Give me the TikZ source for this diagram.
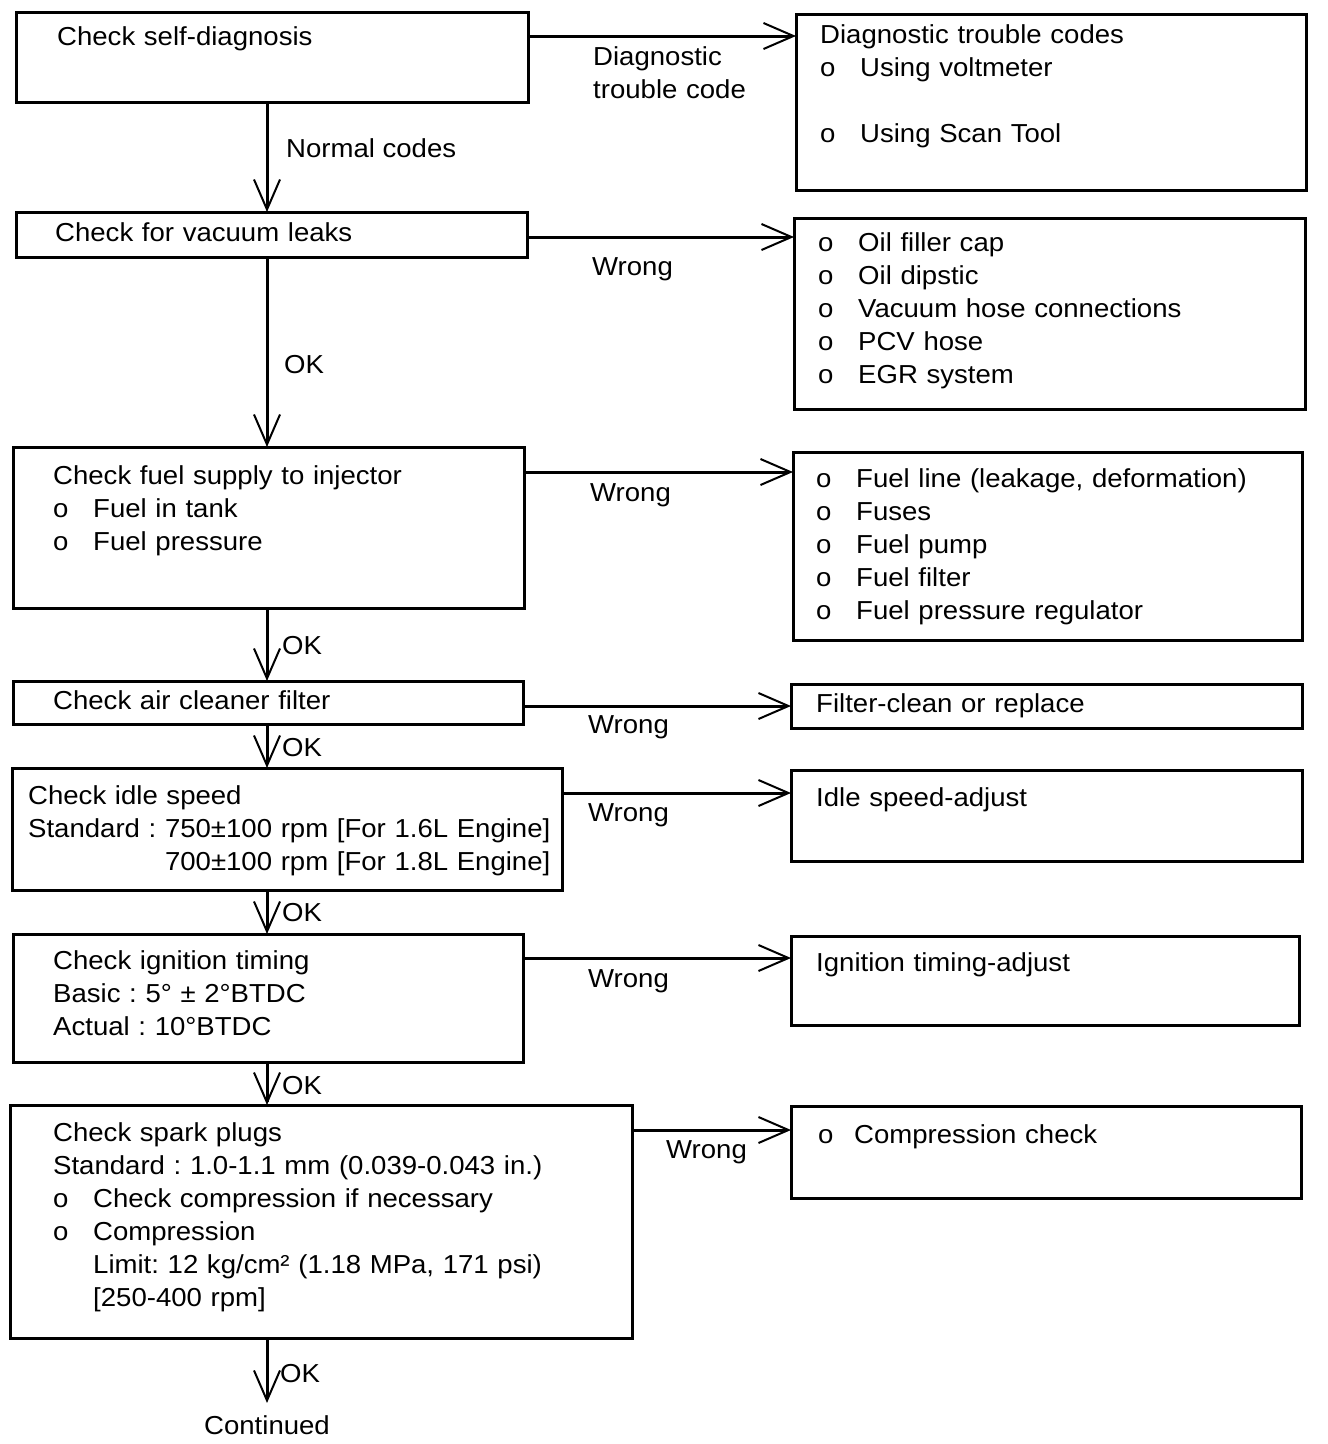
\documentclass[tikz,border=0pt]{standalone}
\usepackage{fontspec}
\setmainfont{Liberation Sans}[FakeStretch=1.06]
\usetikzlibrary{positioning,arrows.meta,calc}
\frenchspacing

\newcommand{\bl}{\makebox[40pt][l]{o}}

\begin{document}
\begin{tikzpicture}[
  x=1pt,y=-1pt,
  font=\fontsize{26}{33}\selectfont,
  box/.style={draw,line width=3pt,anchor=north west,inner sep=0pt,outer sep=0pt},
  txt/.style={anchor=base west,inner sep=0pt,text width=700pt,align=left},
  lbl/.style={anchor=base west,inner sep=0pt},
  ar/.style={line width=3pt,-{Straight Barb[length=30pt,width=26pt,line width=2pt]}},
]
\useasboundingbox (0,0) rectangle (1328,1444);
\coordinate (spine) at (267,0);

% checks, left column
\node[box,minimum width=512pt,minimum height=90pt] (chk1) at (16,12) {};
\node[box,minimum width=511pt,minimum height=45pt] (chk2) at (16,212) {};
\node[box,minimum width=511pt,minimum height=161pt] (chk3) at (13,447) {};
\node[box,minimum width=510pt,minimum height=43pt] (chk4) at (13,681) {};
\node[box,minimum width=550pt,minimum height=122pt] (chk5) at (12,768) {};
\node[box,minimum width=510pt,minimum height=128pt] (chk6) at (13,934) {};
\node[box,minimum width=622pt,minimum height=233pt] (chk7) at (10,1105) {};

\node[txt] at (57,45) {Check self-diagnosis};
\node[txt] at (55,241) {Check for vacuum leaks};
\node[txt] at (53,484) {Check fuel supply to injector\\
  \bl Fuel in tank\\
  \bl Fuel pressure};
\node[txt] at (53,709) {Check air cleaner filter};
\node[txt] at (28,804) {Check idle speed\\
  Standard : 750±100 rpm [For 1.6L Engine]\\
  \phantom{Standard : }700±100 rpm [For 1.8L Engine]};
\node[txt] at (53,969) {Check ignition timing\\
  Basic : 5° ± 2°BTDC\\
  Actual : 10°BTDC};
\node[txt] at (53,1141) {Check spark plugs\\
  Standard : 1.0-1.1 mm (0.039-0.043 in.)\\
  \bl Check compression if necessary\\
  \bl Compression\\
  \hspace*{40pt}Limit: 12 kg/cm² (1.18 MPa, 171 psi)\\
  \hspace*{40pt}[250-400 rpm]};

% remedies, right column
\node[box,minimum width=510pt,minimum height=176pt] (fix1) at (796,14) {};
\node[box,minimum width=511pt,minimum height=191pt] (fix2) at (794,218) {};
\node[box,minimum width=509pt,minimum height=188pt] (fix3) at (793,452) {};
\node[box,minimum width=511pt,minimum height=44pt] (fix4) at (791,684) {};
\node[box,minimum width=511pt,minimum height=91pt] (fix5) at (791,770) {};
\node[box,minimum width=508pt,minimum height=89pt] (fix6) at (791,936) {};
\node[box,minimum width=510pt,minimum height=92pt] (fix7) at (791,1106) {};

\node[txt] at (820,43) {Diagnostic trouble codes\\
  \bl Using voltmeter\\[33pt]
  \bl Using Scan Tool};
\node[txt] at (818,251) {\bl Oil filler cap\\
  \bl Oil dipstic\\
  \bl Vacuum hose connections\\
  \bl PCV hose\\
  \bl EGR system};
\node[txt] at (816,487) {\bl Fuel line (leakage, deformation)\\
  \bl Fuses\\
  \bl Fuel pump\\
  \bl Fuel filter\\
  \bl Fuel pressure regulator};
\node[txt] at (816,712) {Filter-clean or replace};
\node[txt] at (816,806) {Idle speed-adjust};
\node[txt] at (816,971) {Ignition timing-adjust};
\node[txt] at (818,1143) {\makebox[36pt][l]{o}Compression check};

% main line
\draw[ar] (chk1.south -| spine) -- (chk2.north -| spine);
\draw[ar] (chk2.south -| spine) -- (chk3.north -| spine);
\draw[ar] (chk3.south -| spine) -- (chk4.north -| spine);
\draw[ar] (chk4.south -| spine) -- (chk5.north -| spine);
\draw[ar] (chk5.south -| spine) -- (chk6.north -| spine);
\draw[ar] (chk6.south -| spine) -- (chk7.north -| spine);
\node[lbl,anchor=base,inner sep=12pt] (cont) at (267,1434) {Continued};
\draw[ar] (chk7.south -| spine) -- (cont.north);

\node[lbl] at (286,157) {Normal codes};
\node[lbl] at (284,373) {OK};
\node[lbl] at (282,654) {OK};
\node[lbl] at (282,756) {OK};
\node[lbl] at (282,921) {OK};
\node[lbl] at (282,1094) {OK};
\node[lbl] at (280,1382) {OK};

% branches
\draw[ar] ($(chk1.north east)+(0,24)$) coordinate (a1) -- (a1 -| fix1.west);
\draw[ar] ($(chk2.north east)+(0,25)$) coordinate (a2) -- (a2 -| fix2.west);
\draw[ar] ($(chk3.north east)+(0,25)$) coordinate (a3) -- (a3 -| fix3.west);
\draw[ar] ($(chk4.north east)+(0,25)$) coordinate (a4) -- (a4 -| fix4.west);
\draw[ar] ($(chk5.north east)+(0,25)$) coordinate (a5) -- (a5 -| fix5.west);
\draw[ar] ($(chk6.north east)+(0,24)$) coordinate (a6) -- (a6 -| fix6.west);
\draw[ar] ($(chk7.north east)+(0,25)$) coordinate (a7) -- (a7 -| fix7.west);

\node[txt] at (593,65) {Diagnostic\\trouble code};
\node[lbl] at (592,275) {Wrong};
\node[lbl] at (590,501) {Wrong};
\node[lbl] at (588,733) {Wrong};
\node[lbl] at (588,821) {Wrong};
\node[lbl] at (588,987) {Wrong};
\node[lbl] at (666,1158) {Wrong};
\end{tikzpicture}
\end{document}
